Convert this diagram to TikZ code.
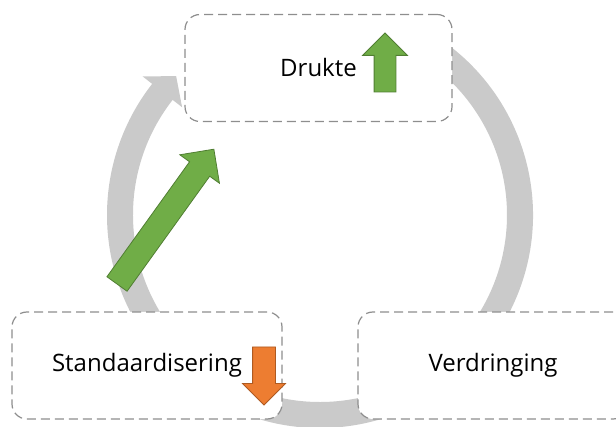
\documentclass[tikz,border=0pt]{standalone}
\usepackage{fontspec}
\setmainfont{Open Sans}
\usepackage{tikz}
\usetikzlibrary{shapes.arrows}
\definecolor{ringgray}{HTML}{CACACA}
\definecolor{boxline}{HTML}{8E8E8E}
\definecolor{upgreen}{HTML}{70AD47}
\definecolor{upgreenline}{HTML}{507E32}
\definecolor{downorange}{HTML}{ED7D31}
\definecolor{downorangeline}{HTML}{AE5A21}

\begin{document}
\begin{tikzpicture}[x=1pt,y=1pt,stage/.style={draw=boxline,fill=white,dash pattern=on 9pt off 5pt,line width=1.2pt,rounded corners=15pt,minimum height=107pt,font=\fontsize{24}{28}\selectfont},blockarrow/.style={single arrow,inner xsep=0pt,outer sep=0pt,line width=0.8pt,anchor=tail},green arrow/.style={blockarrow,fill=upgreen,draw=upgreenline},orange arrow/.style={blockarrow,fill=downorange,draw=downorangeline}]

	\useasboundingbox (0,0) rectangle (616,426);
	\clip (0,0) rectangle (616,426);

	\begin{scope}[shift={(320,211)}]
	\fill[ringgray] (62:213) arc[start angle=62,end angle=-218,radius=213]
	-- (142:225) -- (136:200) -- (142:175) -- (142:187)
	arc[start angle=142,end angle=422,radius=187] -- cycle;
	\end{scope}

	\node[stage,minimum width=267pt] (drukte) at (318.5,358) {Drukte};
	\node[stage,minimum width=270pt] (standaard) at (147,60.5) {Standaardisering};
	\node[stage,minimum width=270pt] (verdring) at (493,60.5) {Verdringing};

	\node[green arrow,minimum height=59pt,inner ysep=10.5pt,single arrow head extend=11.5pt,rotate=90] (drukte up) at (385,334) {};
	\node[orange arrow,minimum height=58pt,inner ysep=11pt,single arrow head extend=10pt,rotate=-90] (standaard down) at (264,79) {};
	\node[green arrow,minimum height=166pt,inner ysep=12pt,single arrow head extend=12pt,rotate=54.3] (rise) at (117,142) {};
	\end{tikzpicture}
\end{document}
